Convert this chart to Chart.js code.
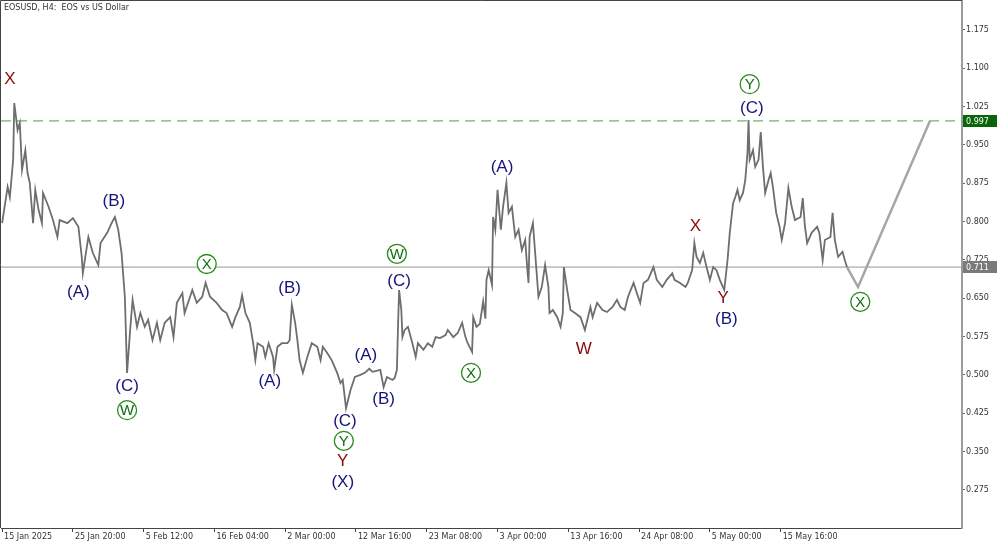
<!DOCTYPE html>
<html lang="en">
<head>
    <meta charset="UTF-8">
    <title>EOSUSD H4</title>
    <script src="https://cdn.jsdelivr.net/npm/chart.js"></script>
    <style>
        body { margin: 0; background: #fff; }
        #wrap { width: 1000px; height: 545px; position: relative; }
    </style>
</head>
<body>
    <div id="wrap">
        <canvas id="eosChart" width="1000" height="545"></canvas>
    </div>

    <script>
        // H4 bar index (0 = 15 Jan 2025 00:00) and close price
        const barIdx = [
            0, 5, 7, 10, 11, 14, 16, 18, 21, 23,
            25, 28, 30, 33, 36, 37, 42, 46, 50, 52,
            59, 64, 69, 72, 73, 78, 82, 87, 89, 95,
            99, 102, 105, 108, 111, 113, 116, 118, 122, 125,
            129, 132, 136, 140, 143, 147, 152, 155, 158, 163,
            165, 172, 176, 181, 184, 188, 194, 199, 203, 208,
            211, 215, 217, 220, 224, 227, 229, 231, 236, 238,
            241, 245, 246, 249, 253, 258, 260, 262, 265, 267,
            269, 272, 276, 280, 285, 288, 290, 294, 298, 303,
            306, 308, 311, 315, 319, 324, 328, 332, 335, 342,
            345, 348, 353, 355, 357, 358, 359, 361, 362, 364,
            367, 371, 374, 376, 381, 385, 389, 392, 396, 401,
            403, 408, 412, 416, 419, 421, 425, 426, 429, 432,
            435, 437, 438, 440, 443, 444, 446, 448, 449, 451,
            453, 456, 458, 461, 464, 467, 470, 473, 475, 476,
            477, 480, 482, 485, 488, 491, 494, 495, 498, 502,
            505, 507, 508, 511, 514, 518, 523, 527, 532, 534,
            538, 543, 547, 552, 556, 559, 563, 566, 571, 574,
            577, 580, 584, 589, 592, 597, 601, 606, 608, 613,
            618, 620, 624, 626, 628, 631, 634, 637, 640, 643,
            646, 649, 653, 656, 658, 661, 663, 665, 667, 670,
            672, 674, 675, 676, 679, 681, 684, 686, 688, 690,
            693, 695, 697, 700, 703, 705, 708, 711, 714, 717,
            722, 724, 726, 728, 732, 737, 739, 742, 744, 749,
            751, 753, 756, 760, 762, 764
        ];
        const closes = [
            0.797, 0.868, 0.848, 0.921, 1.032, 0.979, 0.993, 0.901, 0.940, 0.895,
            0.876, 0.797, 0.862, 0.823, 0.797, 0.856, 0.829, 0.803, 0.770, 0.803,
            0.797, 0.807, 0.790, 0.731, 0.699, 0.770, 0.739, 0.715, 0.758, 0.778,
            0.797, 0.809, 0.784, 0.739, 0.653, 0.504, 0.594, 0.647, 0.594, 0.621,
            0.594, 0.608, 0.568, 0.602, 0.568, 0.602, 0.613, 0.574, 0.641, 0.660,
            0.621, 0.666, 0.641, 0.653, 0.680, 0.653, 0.641, 0.627, 0.621, 0.594,
            0.613, 0.633, 0.656, 0.621, 0.602, 0.562, 0.529, 0.562, 0.555, 0.535,
            0.562, 0.535, 0.510, 0.555, 0.562, 0.562, 0.568, 0.637, 0.602, 0.568,
            0.529, 0.504, 0.535, 0.562, 0.555, 0.529, 0.555, 0.543, 0.529, 0.504,
            0.484, 0.490, 0.435, 0.470, 0.496, 0.500, 0.504, 0.512, 0.506, 0.510,
            0.476, 0.496, 0.490, 0.494, 0.510, 0.594, 0.666, 0.627, 0.574, 0.588,
            0.594, 0.562, 0.535, 0.562, 0.549, 0.562, 0.555, 0.574, 0.572, 0.578,
            0.588, 0.574, 0.582, 0.602, 0.574, 0.562, 0.545, 0.613, 0.594, 0.600,
            0.644, 0.610, 0.686, 0.705, 0.676, 0.809, 0.784, 0.862, 0.836, 0.784,
            0.829, 0.876, 0.817, 0.829, 0.770, 0.784, 0.744, 0.764, 0.705, 0.680,
            0.770, 0.797, 0.739, 0.653, 0.672, 0.715, 0.672, 0.621, 0.627, 0.613,
            0.594, 0.621, 0.711, 0.666, 0.627, 0.621, 0.613, 0.588, 0.633, 0.613,
            0.641, 0.627, 0.623, 0.633, 0.647, 0.633, 0.627, 0.653, 0.680, 0.660,
            0.641, 0.680, 0.686, 0.711, 0.686, 0.672, 0.686, 0.699, 0.686, 0.680,
            0.672, 0.680, 0.705, 0.758, 0.731, 0.719, 0.739, 0.711, 0.686, 0.711,
            0.705, 0.686, 0.666, 0.725, 0.778, 0.836, 0.848, 0.862, 0.842, 0.856,
            0.881, 0.934, 0.999, 0.921, 0.940, 0.907, 0.921, 0.975, 0.907, 0.856,
            0.881, 0.895, 0.868, 0.817, 0.790, 0.764, 0.797, 0.866, 0.829, 0.803,
            0.809, 0.846, 0.790, 0.758, 0.778, 0.790, 0.778, 0.725, 0.764, 0.770,
            0.817, 0.764, 0.731, 0.741, 0.725, 0.711
        ];

        // forecast path drawn after the last bar
        const projIdx = [764, 774, 839];
        const projPrice = [0.711, 0.672, 0.997];

        // horizontal levels: target (dashed green) and current price (grey)
        const targetLevel = 0.997;
        const currentLevel = 0.711;

        const xTickIdx = [0, 64, 128, 192, 256, 320, 384, 448, 512, 576, 640, 704];
        const xTickLabels = ['15 Jan 2025', '25 Jan 20:00', '5 Feb 12:00', '16 Feb 04:00', '2 Mar 00:00',
            '12 Mar 16:00', '23 Mar 08:00', '3 Apr 00:00', '13 Apr 16:00', '24 Apr 08:00',
            '5 May 00:00', '15 May 16:00'];
        const yTicks = [0.275, 0.350, 0.425, 0.500, 0.575, 0.650, 0.725, 0.800, 0.875, 0.950, 1.025, 1.100, 1.175];

        // wave labels: text, bar index, price, kind
        const waveText = ['X', '(A)', '(B)', '(C)', 'W', 'X', '(A)', '(B)', '(C)', 'Y', 'Y', '(X)',
            '(A)', '(B)', '(C)', 'W', 'X', '(A)', 'W', 'X', 'Y', '(B)', '(C)', 'Y', 'X'];
        const waveIdx = [7, 69, 101, 113, 113, 185, 242, 260, 310, 309, 308, 308,
            329, 345, 359, 357, 424, 452, 526, 627, 652, 655, 678, 676, 776];
        const wavePrice = [1.079, 0.662, 0.840, 0.478, 0.431, 0.717, 0.488, 0.670, 0.410, 0.371, 0.330, 0.290,
            0.539, 0.453, 0.684, 0.737, 0.504, 0.907, 0.551, 0.790, 0.649, 0.608, 1.022, 1.069, 0.643];
        const waveKind = ['red', 'blue', 'blue', 'blue', 'circle', 'circle', 'blue', 'blue', 'blue', 'circle', 'red', 'blue',
            'blue', 'blue', 'blue', 'circle', 'circle', 'blue', 'red', 'red', 'red', 'blue', 'blue', 'circle', 'circle'];

        const smallFont = '8px "DejaVu Sans"';

        const wavePlugin = {
            id: 'waves',
            afterDatasetsDraw(chart) {
                const ctx = chart.ctx;
                const xs = chart.scales.x, ys = chart.scales.y;
                ctx.save();
                ctx.textAlign = 'center';
                ctx.textBaseline = 'middle';
                for (let i = 0; i < waveText.length; i++) {
                    const px = xs.getPixelForValue(waveIdx[i]);
                    const py = ys.getPixelForValue(wavePrice[i]);
                    if (waveKind[i] === 'circle') {
                        ctx.beginPath();
                        ctx.arc(px, py, 9.5, 0, Math.PI * 2);
                        ctx.fillStyle = '#fff';
                        ctx.fill();
                        ctx.lineWidth = 1.3;
                        ctx.strokeStyle = '#2a8a1a';
                        ctx.stroke();
                        ctx.fillStyle = '#0f6e0f';
                        ctx.font = '15px "Liberation Sans"';
                        ctx.fillText(waveText[i], px, py + 1);
                    } else {
                        ctx.fillStyle = waveKind[i] === 'red' ? '#8b0a0a' : '#14147d';
                        ctx.font = '17px "Liberation Sans"';
                        ctx.fillText(waveText[i], px, py);
                    }
                }
                ctx.restore();
            },
            afterDraw(chart) {
                const ctx = chart.ctx;
                const a = chart.chartArea;
                const ys = chart.scales.y;
                ctx.save();
                // frame top and left
                ctx.strokeStyle = '#444';
                ctx.lineWidth = 1;
                ctx.beginPath();
                ctx.moveTo(a.left - 0.5, a.bottom);
                ctx.lineTo(a.left - 0.5, a.top - 0.5);
                ctx.lineTo(a.right, a.top - 0.5);
                ctx.stroke();
                // price boxes on the axis
                const boxes = [[targetLevel, '#0a640a'], [currentLevel, '#7a7a7a']];
                ctx.font = smallFont;
                ctx.textAlign = 'left';
                ctx.textBaseline = 'middle';
                boxes.forEach(b => {
                    const py = Math.round(ys.getPixelForValue(b[0]));
                    ctx.fillStyle = b[1];
                    ctx.fillRect(a.right + 1, py - 6, 34, 12);
                    ctx.fillStyle = '#fff';
                    ctx.fillText(b[0].toFixed(3), a.right + 4, py + 0.5);
                });
                // symbol caption
                ctx.fillStyle = '#333';
                ctx.textBaseline = 'top';
                ctx.fillText('EOSUSD, H4:  EOS vs US Dollar', 4, 4);
                ctx.restore();
            }
        };

        const ctx = document.getElementById('eosChart').getContext('2d');
        new Chart(ctx, {
            type: 'line',
            data: {
                datasets: [{
                    data: barIdx.map((v, i) => ({ x: v, y: closes[i] })),
                    borderColor: '#6e6e6e',
                    borderWidth: 1.8,
                    pointRadius: 0,
                    order: 1
                }, {
                    data: projIdx.map((v, i) => ({ x: v, y: projPrice[i] })),
                    borderColor: '#a6a6a6',
                    borderWidth: 2.5,
                    pointRadius: 0,
                    order: 2
                }, {
                    data: [{ x: -1, y: targetLevel }, { x: 868, y: targetLevel }],
                    borderColor: '#4b9c4b',
                    borderWidth: 1,
                    borderDash: [10, 6],
                    pointRadius: 0,
                    order: 3
                }, {
                    data: [{ x: -1, y: currentLevel }, { x: 868, y: currentLevel }],
                    borderColor: '#969696',
                    borderWidth: 1,
                    pointRadius: 0,
                    order: 3
                }]
            },
            options: {
                responsive: false,
                animation: false,
                devicePixelRatio: 1,
                layout: { padding: { left: 1, top: 1, right: 0, bottom: 0 } },
                plugins: { legend: { display: false }, tooltip: { enabled: false } },
                scales: {
                    x: {
                        type: 'linear',
                        min: -1,
                        max: 868,
                        afterBuildTicks: s => { s.ticks = xTickIdx.map(v => ({ value: v })); },
                        afterFit: s => { s.height = 17; s.paddingLeft = 0; s.paddingRight = 0; },
                        grid: { drawOnChartArea: false, tickLength: 4, color: '#444' },
                        border: { color: '#444', width: 1 },
                        ticks: {
                            autoSkip: false,
                            maxRotation: 0,
                            align: 'start',
                            labelOffset: 2,
                            padding: 0,
                            color: '#333',
                            font: { family: 'DejaVu Sans', size: 8 },
                            callback: (v, i) => xTickLabels[i]
                        }
                    },
                    y: {
                        position: 'right',
                        min: 0.2004,
                        max: 1.2317,
                        afterBuildTicks: s => { s.ticks = yTicks.map(v => ({ value: v })); },
                        afterFit: s => { s.width = 38; s.paddingTop = 0; s.paddingBottom = 0; },
                        grid: { drawOnChartArea: false, tickLength: 3, color: '#666' },
                        border: { color: '#9c9c9c', width: 2 },
                        ticks: {
                            padding: 1,
                            color: '#333',
                            font: { family: 'DejaVu Sans', size: 8 },
                            callback: v => v.toFixed(3)
                        }
                    }
                }
            },
            plugins: [wavePlugin]
        });
    </script>
</body>
</html>
